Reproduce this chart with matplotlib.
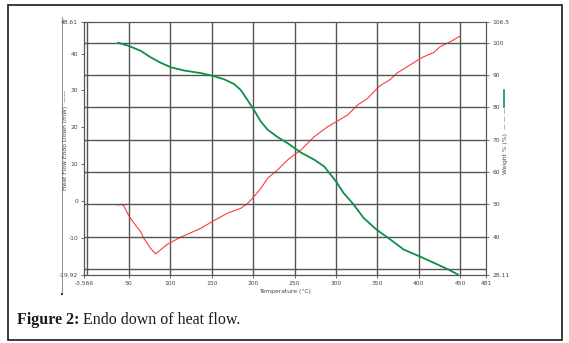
import matplotlib.pyplot as plt
from matplotlib.lines import Line2D
from matplotlib.patches import Rectangle

# Heat flow curve (left axis, mW)
hf_temp = [36.7, 40.8, 44, 50, 56, 64.2, 68.2, 76.3, 82.3, 88.4, 96.5, 100.8,
           112.5, 124.6, 136.7, 150.4, 169, 185, 193.1, 200, 209.3, 217.4,
           229.5, 241.6, 249.6, 257.7, 273.7, 289.9, 300.8, 314.1, 326.2,
           338.3, 352.6, 365.6, 373.6, 385.7, 403.8, 418, 426, 438.1, 450.2]
hf_vals = [-1.0, -0.8, -1.2, -3.9, -5.8, -8.2, -10.0, -12.7, -14.2, -13.1,
           -11.6, -11.1, -9.7, -8.5, -7.3, -5.5, -3.2, -1.9, -0.6, 1.0, 3.5,
           6.2, 8.5, 11.2, 12.6, 13.9, 17.5, 20.2, 21.6, 23.4, 26.1, 27.9,
           31.2, 33.0, 34.7, 36.4, 38.9, 40.3, 41.9, 43.2, 44.8]

# Weight curve (right axis, %)
wt_temp = [37.2, 50, 64.2, 76.3, 88.4, 100.8, 116.6, 136.8, 150.4, 164.9,
           177, 185, 193.1, 200, 209.3, 217.4, 229.5, 241.6, 257.7, 273.7,
           285.8, 300.8, 309.1, 320.4, 333.3, 348.6, 365.6, 381.6, 399.7,
           417.9, 434.1, 446.9]
wt_vals = [100, 99.0, 97.5, 95.5, 93.8, 92.4, 91.4, 90.6, 89.8, 88.7, 87.2,
           85.4, 82.3, 79.6, 75.6, 73.1, 70.8, 68.9, 66.0, 63.8, 61.7, 56.8,
           53.5, 50.2, 45.8, 42.2, 39.1, 36.0, 34.0, 31.9, 30.0, 28.3]

x_ticks = [-3.566, 50, 100, 150, 200, 250, 300, 350, 400, 450, 481]
x_grid = [0, 50, 100, 150, 200, 250, 300, 350, 400, 450]
left_ticks = [-19.92, -10, 0, 10, 20, 30, 40, 48.61]
right_ticks = [28.11, 40, 50, 60, 70, 80, 90, 100, 106.5]
right_grid = [30, 40, 50, 60, 70, 80, 90, 100]

grid_c = '#555555'
tick_fs = 4.3
tick_c = '#444444'

fig = plt.figure(figsize=(5.69, 3.43), dpi=100)
ax = fig.add_axes([84.4 / 569, 1 - 275 / 343, (486 - 84.4) / 569, (275 - 21.7) / 343])
ax2 = ax.twinx()

ax.set_xlim(-3.566, 481)
ax.set_ylim(-19.92, 48.61)
ax2.set_ylim(28.11, 106.5)

for t in x_grid:
    ax.axvline(t, color=grid_c, lw=1.0, zorder=1)
for w in right_grid:
    ax2.axhline(w, color=grid_c, lw=1.0, zorder=1)

ax.plot(hf_temp, hf_vals, color='#ff3b3b', lw=0.8, zorder=3)
ax2.plot(wt_temp, wt_vals, color='#0d8f48', lw=1.3, zorder=3)

ax.set_xticks(x_ticks)
ax.set_xticklabels(['-3.566'] + [str(t) for t in x_ticks[1:]])
ax.set_yticks(left_ticks)
ax.set_yticklabels(['-19.92', '-10', '0', '10', '20', '30', '40', '48.61'])
ax2.set_yticks(right_ticks)
ax2.set_yticklabels(['28.11', '40', '50', '60', '70', '80', '90', '100', '106.5'])

for a in (ax, ax2):
    a.tick_params(labelsize=tick_fs, labelcolor=tick_c, color=grid_c,
                  length=2.5, width=0.6, pad=2)
    for s in a.spines.values():
        s.set_color(grid_c)
        s.set_linewidth(0.8)

ax.set_xlabel('Temperature (°C)', fontsize=4.3, color=tick_c, labelpad=2)

fig.text(66 / 569, 1 - 140 / 343, 'Heat Flow Endo Down (mW)  ——', rotation=90,
         fontsize=4.3, color=tick_c, ha='center', va='center')
fig.text(505 / 569, 1 - 141 / 343, 'Weight % (%)  — — —', rotation=90,
         fontsize=4.3, color=tick_c, ha='center', va='center')
fig.add_artist(Line2D([504 / 569, 504 / 569], [1 - 90 / 343, 1 - 107 / 343],
                      color='#0d8f48', lw=1.2))

# stray vertical rule left of the chart
fig.add_artist(Line2D([62 / 569, 62 / 569], [1 - 17 / 343, 1 - 293 / 343],
                      color='#777777', lw=0.6))
fig.add_artist(Rectangle((60.5 / 569, 1 - 295 / 343), 2.5 / 569, 2.5 / 343,
                         color='#1a1a6e', lw=0))

# outer frame
fig.add_artist(Rectangle((8 / 569, 1 - 340 / 343), 554 / 569, 335 / 343,
                         fill=False, ec='#1a1a1a', lw=1.2))

cap1 = fig.text(17 / 569, 1 - 324 / 343, 'Figure 2:', fontsize=11.5,
                family='Liberation Serif', fontweight='bold', color='#1a1a1a')
renderer = fig.canvas.get_renderer()
bb = cap1.get_window_extent(renderer)
fig.text((bb.x1 + 4) / fig.bbox.width, 1 - 324 / 343, 'Endo down of heat flow.',
         fontsize=11.5, family='Liberation Serif', color='#1a1a1a')

fig.savefig('out.png', dpi=100)
